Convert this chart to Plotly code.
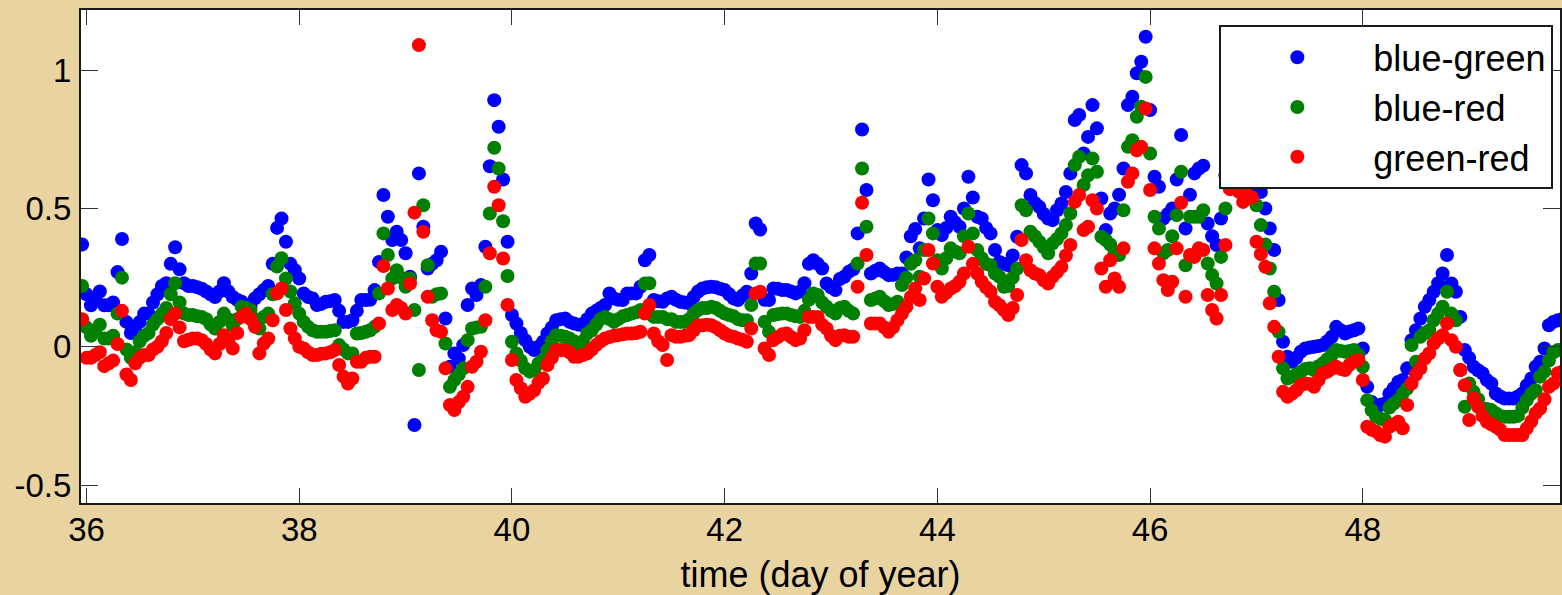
import numpy as np
import plotly.graph_objects as go

# Hourly samples; the first one is taken one hour before day 36.
FIRST_HOUR = -1
HOURS_PER_DAY = 24

blue_green = [
    .37, .19, .15, .17, .20, .15, .15, .16, .27, .39, .09, .05,
    .07, .09, .12, .12, .16, .19, .22, .23, .30, .36, .28, .23,
    .22, .22, .215, .21, .20, .19, .18, .20, .23, .20, .18, .17,
    .163, .15, .145, .175, .19, .205, .22, .30, .43, .464, .38, .30,
    .277, .247, .193, .18, .175, .151, .155, .163, .165, .169, .13, .09,
    .09, .096, .13, .169, .169, .17, .205, .307, .549, .47, .386, .416,
    .386, .338, .253, -.283, .627, .434, .283, .30, .313, .344, .102, -.072,
    -.024, -.042, .006, .151, .211, .187, .223, .362, .653, .892, .796, .605,
    .38, .115, .084, .05, .024, .00, -.012, .00, .018, .048, .07, .096,
    .10, .102, .09, .084, .08, .078, .10, .12, .13, .14, .151, .193,
    .175, .17, .169, .193, .193, .193, .217, .313, .332, .169, .165, .163,
    .175, .181, .17, .163, .16, .157, .18, .20, .211, .215, .217, .215,
    .21, .205, .19, .175, .169, .185, .199, .265, .446, .424, .17, .169,
    .211, .21, .205, .205, .20, .193, .20, .23, .30, .313, .30, .283,
    .229, .215, .205, .245, .253, .271, .28, .41, .786, .567, .265, .275,
    .283, .27, .259, .26, .265, .265, .323, .40, .426, .356, .464, .605,
    .53, .422, .404, .43, .47, .45, .434, .50, .615, .54, .47, .464,
    .43, .41, .35, .307, .30, .295, .33, .398, .657, .627, .549, .52,
    .506, .48, .464, .458, .494, .518, .56, .627, .82, .838, .699, .759,
    .874, .79, .536, .422, .482, .50, .55, .645, .874, .904, .989, 1.031,
    1.121, .856, .615, .579, .464, .48, .50, .605, .766, .428, .55, .627,
    .645, .655, .446, .40, .368, .464, .62, .72, .76, .75, .74, .72,
    .70, .56, .56, .50, .428, .35, .169, .018, -.036, -.054, -.04, -.018,
    -.006, -.003, .00, .003, .006, .02, .036, .072, .06, .048, .055, .06,
    .066, -.006, -.145, -.20, -.223, -.21, -.205, -.17, -.15, -.127, -.12, -.078,
    .024, .06, .102, .145, .169, .199, .23, .265, .332, .229, .199, .108,
    -.012, -.04, -.072, -.085, -.096, -.12, -.133, -.169, -.18, -.187, -.187, -.187,
    -.18, -.169, -.14, -.115, -.072, -.054, -.006, .078, .09, .096, .10,
]

blue_red = [
    .22, .07, .04, .06, .08, .03, .03, .04, .12, .25, -.01, -.04,
    -.02, .02, .04, .05, .08, .10, .12, .14, .19, .23, .16, .12,
    .115, .115, .11, .108, .10, .08, .066, .09, .12, .10, .078, .10,
    .145, .14, .133, .10, .066, .108, .12, .19, .29, .32, .247, .20,
    .157, .12, .09, .072, .06, .054, .054, .054, .057, .06, .006, -.01,
    -.024, -.024, .048, .05, .054, .06, .072, .193, .41, .332, .247, .277,
    .25, .217, .247, .133, -.084, .512, .295, .181, .19, .193, .012, -.145,
    -.12, -.10, -.078, .024, .066, .07, .072, .217, .482, .72, .645, .454,
    .256, .018, -.024, -.05, -.078, -.09, -.085, -.06, -.048, -.012, .02, .042,
    .04, .036, .03, .02, .012, .02, .048, .06, .08, .10, .108, .10,
    .09, .10, .11, .115, .12, .125, .133, .229, .23, .108, .108, .108,
    .10, .10, .09, .09, .09, .10, .12, .133, .14, .14, .145, .14,
    .13, .12, .115, .11, .10, .096, .096, .151, .301, .301, .09, .054,
    .115, .118, .12, .12, .115, .11, .108, .13, .17, .193, .187, .16,
    .145, .13, .12, .14, .145, .13, .12, .301, .645, .434, .169, .175,
    .181, .165, .151, .155, .163, .223, .25, .30, .313, .253, .35, .464,
    .41, .313, .283, .32, .356, .345, .338, .40, .482, .41, .35, .32,
    .30, .295, .265, .253, .217, .22, .25, .283, .512, .494, .416, .40,
    .38, .36, .338, .374, .39, .41, .44, .482, .657, .687, .585, .62,
    .681, .633, .398, .386, .37, .338, .332, .494, .723, .747, .832, .868,
    .976, .699, .47, .428, .338, .35, .40, .476, .633, .295, .47, .47,
    .47, .494, .301, .26, .229, .325, .50, .64, .67, .66, .65, .63,
    .60, .512, .44, .37, .283, .199, .054, -.078, -.115, -.108, -.10, -.09,
    -.08, -.078, -.084, -.07, -.06, -.045, -.03, -.012, -.015, -.018, -.015, -.012,
    -.03, -.072, -.193, -.23, -.253, -.26, -.265, -.22, -.205, -.193, -.17, -.151,
    .006, -.054, .036, .05, .06, .096, .12, .145, .199, .12, .096, -.084,
    -.217, -.133, -.163, -.19, -.223, -.225, -.229, -.24, -.25, -.253, -.253, -.253,
    -.25, -.22, -.193, -.17, -.157, -.108, -.09, -.05, -.02, -.012, -.01,
]

green_red = [
    .10, -.04, -.04, -.03, -.02, -.07, -.06, -.05, .01, .13, -.10, -.12,
    -.06, -.04, -.03, -.03, -.01, .00, .02, .05, .10, .12, .07, .02,
    .025, .03, .03, .024, .01, -.01, -.024, .01, .042, .02, -.006, .05,
    .108, .12, .10, .072, -.024, .012, .03, .096, .193, .211, .133, .066,
    .03, .00, -.006, -.02, -.03, -.03, -.025, -.024, -.02, -.012, -.066, -.108,
    -.133, -.115, -.054, -.054, -.04, -.036, -.036, .084, .292, .211, .133, .151,
    .14, .12, .229, .485, 1.091, .416, .181, .096, .06, .054, -.078, -.211,
    -.229, -.20, -.181, -.145, -.072, -.054, -.018, .096, .338, .579, .512, .319,
    .151, -.048, -.12, -.15, -.181, -.17, -.157, -.13, -.115, -.066, -.04, -.012,
    -.012, -.012, -.02, -.036, -.036, -.03, -.024, -.01, .006, .02, .03, .035,
    .04, .042, .045, .048, .048, .05, .054, .12, .151, .048, .02, .006,
    -.048, .042, .036, .036, .04, .042, .06, .078, .078, .08, .078, .07,
    .06, .048, .04, .036, .03, .025, .018, .066, .193, .199, -.006, -.03,
    .024, .035, .045, .048, .035, .024, .03, .06, .108, .108, .108, .08,
    .066, .04, .024, .04, .042, .036, .036, .217, .521, .332, .084, .084,
    .084, .07, .054, .07, .096, .12, .145, .18, .211, .169, .247, .35,
    .301, .217, .181, .195, .211, .22, .235, .265, .362, .30, .265, .235,
    .215, .199, .163, .15, .133, .115, .14, .187, .386, .313, .277, .265,
    .259, .24, .229, .253, .27, .289, .33, .368, .524, .549, .422, .434,
    .53, .50, .283, .217, .313, .247, .217, .356, .597, .627, .711, .723,
    .862, .567, .356, .301, .241, .205, .235, .356, .521, .181, .332, .325,
    .356, .35, .187, .133, .102, .187, .368, .57, .58, .561, .524, .549,
    .54, .38, .335, .289, .157, .072, -.036, -.163, -.181, -.17, -.157, -.139,
    -.133, -.135, -.145, -.12, -.096, -.09, -.08, -.072, -.08, -.084, -.065, -.054,
    -.048, -.12, -.289, -.30, -.307, -.32, -.325, -.289, -.28, -.271, -.295, -.211,
    -.133, -.10, -.078, -.042, -.024, .012, .03, .042, .084, .024, .00, -.084,
    -.139, -.265, -.187, -.217, -.25, -.271, -.28, -.289, -.30, -.319, -.319, -.319,
    -.319, -.319, -.295, -.27, -.24, -.223, -.19, -.145, -.133, -.096, -.09,
]

series_names = ["blue-green", "blue-red", "green-red"]
series_colors = ["#0000ff", "#008000", "#ff0000"]

x_ticks = [36, 38, 40, 42, 44, 46, 48]
y_ticks = [-0.5, 0, 0.5, 1]
y_tick_labels = ["-0.5", "0", "0.5", "1"]

day = 36 + np.arange(FIRST_HOUR, FIRST_HOUR + len(blue_green)) / HOURS_PER_DAY

FONT = "Liberation Sans, Arial, Helvetica, sans-serif"

fig = go.Figure()
for name, color, values in zip(series_names, series_colors,
                               [blue_green, blue_red, green_red]):
    fig.add_trace(go.Scatter(
        x=day, y=values, mode="markers", name=name,
        marker=dict(color=color, size=14, line=dict(width=0)),
    ))

axis_common = dict(
    showline=True, linecolor="#1a1a1a", linewidth=2, mirror="ticks",
    ticks="inside", tickwidth=1, tickcolor="#333333",
    showgrid=False, zeroline=False,
    tickfont=dict(family=FONT, size=33, color="black"),
)

fig.update_layout(
    width=1562, height=595,
    margin=dict(l=81, r=0, t=10, b=92),
    paper_bgcolor="#e9d4a1",
    plot_bgcolor="white",
    font=dict(family=FONT, color="black"),
    xaxis=dict(
        range=[35.948, 49.854], tickvals=x_ticks, ticklen=15,
        ticklabelstandoff=-4,
        title=dict(text="time (day of year)", font=dict(size=36), standoff=17),
        **axis_common,
    ),
    yaxis=dict(
        range=[-0.565, 1.218], tickvals=y_ticks, ticktext=y_tick_labels,
        ticklen=17, ticklabelstandoff=1,
        **axis_common,
    ),
    legend=dict(
        x=0.9955, y=0.969, xanchor="right", yanchor="top",
        bgcolor="white", bordercolor="#1a1a1a", borderwidth=2,
        font=dict(family=FONT, size=36, color="black"),
        itemwidth=142,
    ),
    showlegend=True,
)

fig.write_html("out.html")
